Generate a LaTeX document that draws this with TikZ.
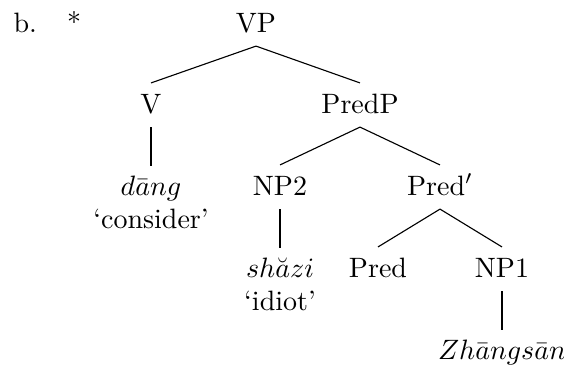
\documentclass[tikz,border=0pt]{standalone}
\usepackage{amsmath}
\usepackage{tikz}
\usetikzlibrary{positioning}
\tikzset{
  cat/.style={anchor=base,text height=7.2pt,text depth=1.5pt},
  leaf/.style={anchor=north,align=center},
  br/.style={black,line width=0.4pt}
}

\begin{document}
\begin{tikzpicture}[x=0.357pt,y=-0.357pt]
\useasboundingbox (0,0) rectangle (564,369);
% example number and star
\node[anchor=base west,inner sep=0pt] (exno) at (13,32) {b.};
\node[anchor=base,inner sep=0pt] (star) at (74,32) {*};
% categories
\node[cat] (vp) at (256,32) {VP};
\node[cat] (v) at (151,113) {V};
\node[cat] (predp) at (360,113) {PredP};
\node[cat] (np2) at (280,195) {NP2};
\node[cat] (predbar) at (440,195) {Pred$'$};
\node[cat] (pred) at (378,277) {Pred};
\node[cat] (np1) at (502,277) {NP1};
% words
\node[leaf] (dang) at (151,166) {$d\bar{a}ng$\\`consider'};
\node[leaf] (shazi) at (280,248) {$sh\breve{a}zi$\\`idiot'};
\node[leaf] (zs) at (502,330) {$Zh\bar{a}ngs\bar{a}n$};
% branches
\draw[br] (vp.south) -- (v.north);
\draw[br] (vp.south) -- (predp.north);
\draw[br] (v.south) -- (dang.north);
\draw[br] (predp.south) -- (np2.north);
\draw[br] (predp.south) -- (predbar.north);
\draw[br] (np2.south) -- (shazi.north);
\draw[br] (predbar.south) -- (pred.north);
\draw[br] (predbar.south) -- (np1.north);
\draw[br] (np1.south) -- (zs.north);
\end{tikzpicture}
\end{document}
